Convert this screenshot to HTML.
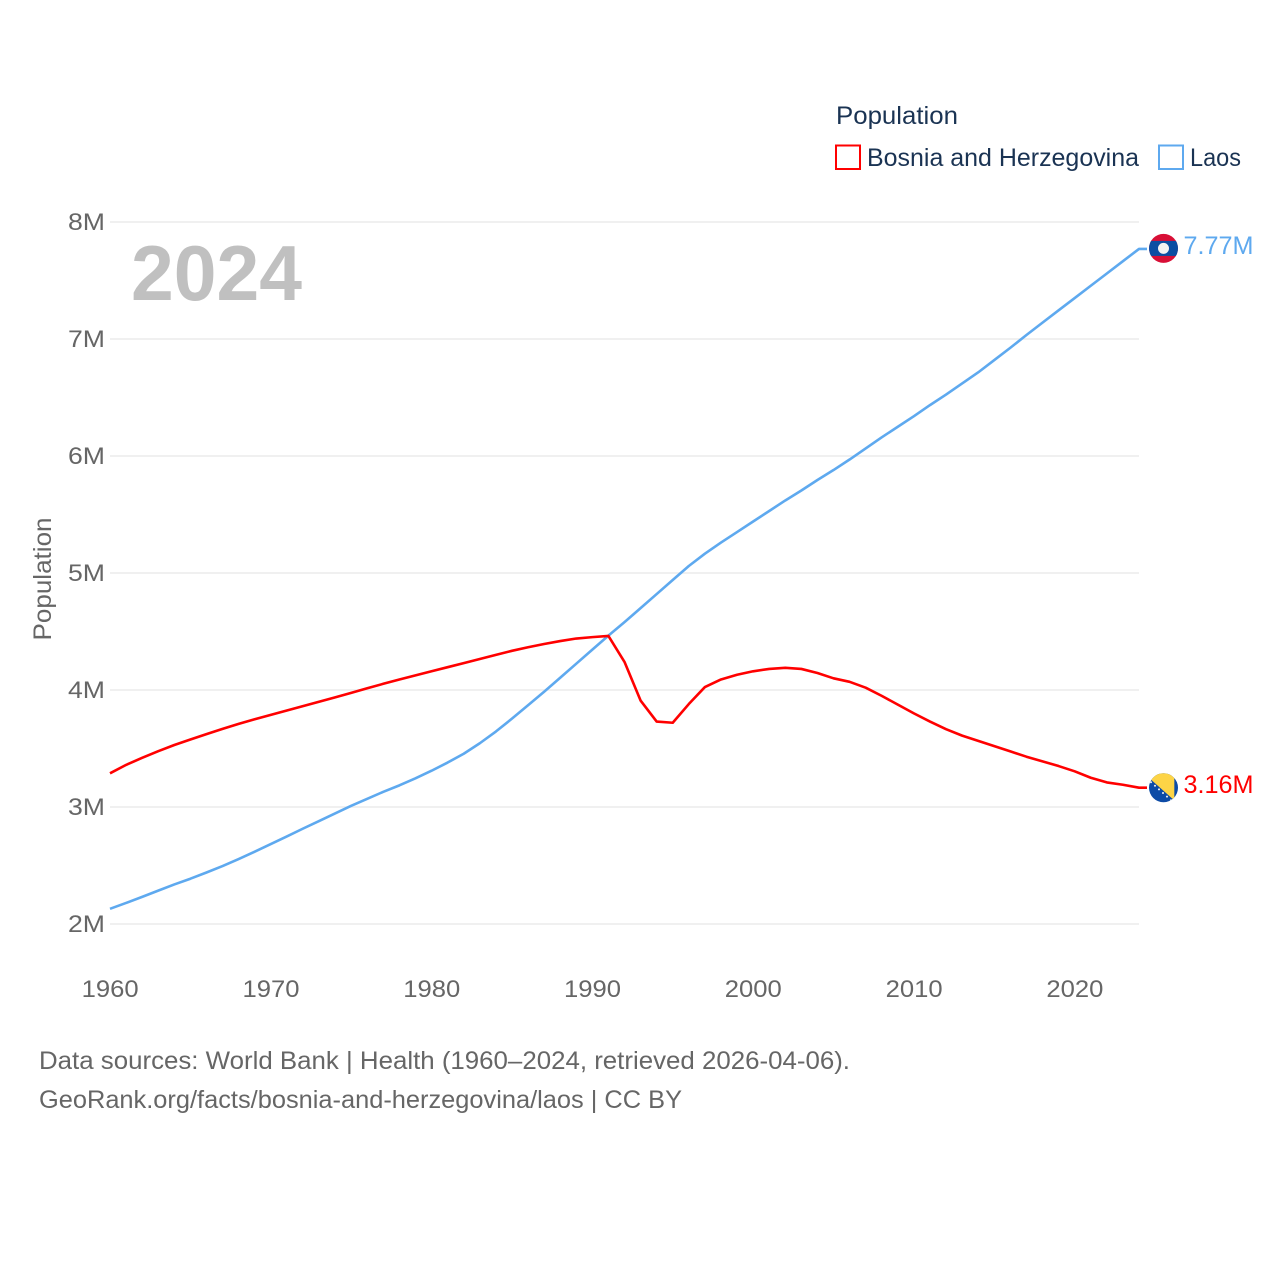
<!DOCTYPE html>
<html lang="en">
<head>
<meta charset="utf-8">
<title>Population: Bosnia and Herzegovina vs Laos</title>
<style>
html,body{margin:0;padding:0;background:#fff;}
svg{display:block;}
text{font-family:"Liberation Sans",sans-serif;}
</style>
</head>
<body>
<svg id="chart" xmlns="http://www.w3.org/2000/svg" width="1280" height="1280" viewBox="0 0 1280 1280">
  <rect width="1280" height="1280" fill="#fff"/>
  <g id="grid"></g>
  <g id="yticks"></g>
  <g id="xticks"></g>
  <text transform="translate(51,579) rotate(-90)" text-anchor="middle" font-size="25" fill="#666" textLength="123" lengthAdjust="spacingAndGlyphs">Population</text>
  <text x="131" y="300" font-size="78" font-weight="700" fill="#c0c0c0" textLength="171" lengthAdjust="spacingAndGlyphs">2024</text>
  <g id="series"></g>
  <defs>
    <clipPath id="laos-clip"><circle id="laos-clip-c" r="14.5"/></clipPath>
    <clipPath id="bih-clip"><circle id="bih-clip-c" r="14.5"/></clipPath>
  </defs>
  <g id="laos-flag" clip-path="url(#laos-clip)"></g>
  <g id="bih-flag" clip-path="url(#bih-clip)"></g>
  <g id="end-labels"></g>
  <g>
    <text x="836" y="124" font-size="25" fill="#1a3353" textLength="122" lengthAdjust="spacingAndGlyphs">Population</text>
    <rect x="836" y="145.5" width="24" height="23.5" fill="none" stroke="#ff0000" stroke-width="2"/>
    <text x="867" y="166" font-size="25" fill="#1a3353" textLength="272" lengthAdjust="spacingAndGlyphs">Bosnia and Herzegovina</text>
    <rect x="1159" y="145.5" width="24" height="23.5" fill="none" stroke="#5ea9ef" stroke-width="2"/>
    <text x="1190" y="166" font-size="25" fill="#1a3353" textLength="51" lengthAdjust="spacingAndGlyphs">Laos</text>
  </g>
  <g>
    <text x="39" y="1069" font-size="25" fill="#666" textLength="811" lengthAdjust="spacingAndGlyphs">Data sources: World Bank | Health (1960–2024, retrieved 2026-04-06).</text>
    <text x="39" y="1108" font-size="25" fill="#666" textLength="643" lengthAdjust="spacingAndGlyphs">GeoRank.org/facts/bosnia-and-herzegovina/laos | CC BY</text>
  </g>
</svg>
<script>
const startYear = 1960;
const xTickYears = [1960, 1970, 1980, 1990, 2000, 2010, 2020];
const yTickValues = [2, 3, 4, 5, 6, 7, 8];
const yTickLabels = ['2M', '3M', '4M', '5M', '6M', '7M', '8M'];
const bosniaValues = [3.288,3.36,3.42,3.477,3.53,3.577,3.623,3.668,3.71,3.75,3.787,3.825,3.862,3.90,3.937,3.975,4.015,4.053,4.09,4.125,4.16,4.195,4.23,4.265,4.30,4.335,4.365,4.393,4.418,4.44,4.452,4.462,4.24,3.91,3.73,3.72,3.88,4.025,4.09,4.13,4.16,4.18,4.19,4.18,4.145,4.10,4.07,4.02,3.95,3.875,3.80,3.73,3.665,3.61,3.565,3.52,3.475,3.43,3.39,3.35,3.305,3.25,3.21,3.19,3.165];
const laosValues = [2.13,2.18,2.232,2.285,2.338,2.387,2.44,2.495,2.555,2.618,2.683,2.748,2.815,2.88,2.945,3.01,3.07,3.13,3.185,3.245,3.31,3.38,3.455,3.545,3.645,3.755,3.87,3.985,4.105,4.225,4.345,4.465,4.58,4.70,4.82,4.94,5.06,5.165,5.26,5.35,5.44,5.53,5.62,5.705,5.795,5.88,5.97,6.065,6.16,6.25,6.34,6.435,6.525,6.62,6.715,6.82,6.925,7.034,7.14,7.245,7.35,7.455,7.56,7.665,7.77];
const bosniaEndLabel = '3.16M';
const laosEndLabel = '7.77M';

const NS = 'http://www.w3.org/2000/svg';
const xScale = year => 110 + (year - 1960) * (1029 / 64);
const yScale = v => 924 - (v - 2) * 117;

function make(tag, attrs, parent) {
  const el = document.createElementNS(NS, tag);
  for (const k in attrs) el.setAttribute(k, attrs[k]);
  parent.appendChild(el);
  return el;
}

const grid = document.getElementById('grid');
const yticks = document.getElementById('yticks');
yTickValues.forEach((v, i) => {
  const ln = make('line', {x1: 110, x2: 1139, y1: yScale(v), y2: yScale(v), stroke: '#ececec', 'stroke-width': 1.5}, grid);
  
  
  const t = make('text', {x: 105, y: yScale(v) + 8, 'text-anchor': 'end', 'font-size': 24.5, fill: '#666', textLength: 37, lengthAdjust: 'spacingAndGlyphs'}, yticks);
  
  
  t.textContent = yTickLabels[i];
});

const xticks = document.getElementById('xticks');
xTickYears.forEach(y => {
  const t = make('text', {x: xScale(y) + 0.2, y: 997, 'text-anchor': 'middle', 'font-size': 24.5, fill: '#666', textLength: 57, lengthAdjust: 'spacingAndGlyphs'}, xticks);
  
  
  t.textContent = y;
});

const seriesG = document.getElementById('series');
function drawSeries(values, color, name) {
  const pts = values.map((v, i) => xScale(startYear + i).toFixed(2) + ',' + yScale(v).toFixed(2));
  const lastX = xScale(startYear + values.length - 1);
  const lastY = yScale(values[values.length - 1]);
  pts.push((lastX + 8).toFixed(2) + ',' + lastY.toFixed(2));
  const p = make('polyline', {points: pts.join(' '), fill: 'none', stroke: color, 'stroke-width': 2.6, 'stroke-linejoin': 'round'}, seriesG);
  
  
  return lastY;
}
const laosEndY = drawSeries(laosValues, '#5ea9ef', 'laos-line');
const bosniaEndY = drawSeries(bosniaValues, '#ff0000', 'bosnia-line');

const fx = 1163.5;
document.getElementById('laos-clip-c').setAttribute('cx', fx);
document.getElementById('laos-clip-c').setAttribute('cy', laosEndY - 0.5);
document.getElementById('bih-clip-c').setAttribute('cx', fx);
document.getElementById('bih-clip-c').setAttribute('cy', bosniaEndY);

const lf = document.getElementById('laos-flag');
const ly = laosEndY - 0.5;
make('rect', {x: fx - 15, y: ly - 15, width: 30, height: 30, fill: '#d80f36'}, lf);
make('rect', {x: fx - 15, y: ly - 7.5, width: 30, height: 15, fill: '#0b4ea2'}, lf);
make('circle', {cx: fx, cy: ly, r: 5.5, fill: '#f2f2f2'}, lf);

const bf = document.getElementById('bih-flag');
const by = bosniaEndY;
make('rect', {x: fx - 15, y: by - 15, width: 30, height: 30, fill: '#0d4ba6'}, bf);
make('polygon', {points: [(fx-15)+','+(by-10.3), (fx+10.8)+','+(by+12.7), (fx+10.8)+','+(by-15), (fx-15)+','+(by-15)].join(' '), fill: '#fdd446'}, bf);
for (let k = 0; k < 6; k++) {
  make('circle', {cx: fx - 12.5 + k * 4, cy: by - 5.5 + k * 3.6, r: 1, fill: '#f5f5f5'}, bf);
}

const endG = document.getElementById('end-labels');
function endLabel(txt, y, color, name) {
  const t = make('text', {x: 1183.5, y: y + 6, 'font-size': 25, fill: color, textLength: 70, lengthAdjust: 'spacingAndGlyphs'}, endG);
  
  
  t.textContent = txt;
}
endLabel(laosEndLabel, laosEndY - 1, '#5ea9ef', 'laos-end-label');
endLabel(bosniaEndLabel, bosniaEndY - 0.5, '#ff0000', 'bosnia-end-label');
</script>
</body>
</html>
